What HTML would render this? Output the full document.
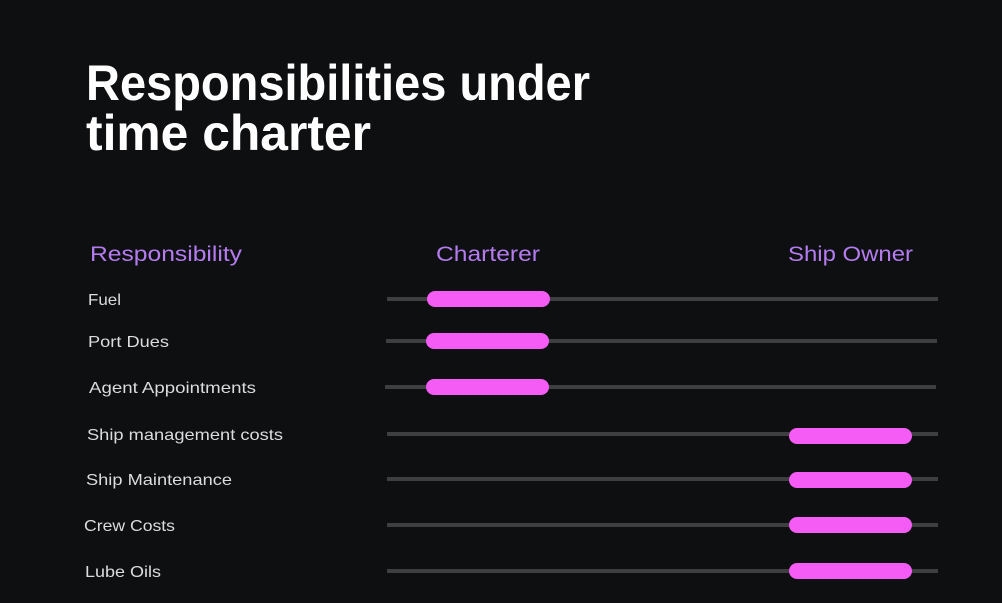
<!DOCTYPE html>
<html><head><meta charset="utf-8"><style>
html,body{margin:0;padding:0;background:#0e0f11;}
svg{display:block}
</style></head><body>
<svg width="1002" height="603" viewBox="0 0 1002 603" xmlns="http://www.w3.org/2000/svg">
<rect width="1002" height="603" fill="#0e0f11"/>
<g font-family="Liberation Sans, sans-serif" font-weight="bold" fill="#ffffff" font-size="50">
<text x="86" y="100" textLength="504" lengthAdjust="spacingAndGlyphs">Responsibilities under</text>
<text x="86" y="150" textLength="285" lengthAdjust="spacingAndGlyphs">time charter</text>
</g>
<g font-family="Liberation Sans, sans-serif" fill="#b47cf0" font-size="21">
<text x="90" y="261" textLength="152" lengthAdjust="spacingAndGlyphs">Responsibility</text>
<text x="436" y="261" textLength="104" lengthAdjust="spacingAndGlyphs">Charterer</text>
<text x="788" y="261" textLength="125" lengthAdjust="spacingAndGlyphs">Ship Owner</text>
</g>
<g font-family="Liberation Sans, sans-serif" fill="#dcdcdc" font-size="16">
<text x="88" y="305" textLength="33" lengthAdjust="spacingAndGlyphs">Fuel</text>
<text x="88" y="347" textLength="81" lengthAdjust="spacingAndGlyphs">Port Dues</text>
<text x="89" y="393" textLength="167" lengthAdjust="spacingAndGlyphs">Agent Appointments</text>
<text x="87" y="440" textLength="196" lengthAdjust="spacingAndGlyphs">Ship management costs</text>
<text x="86" y="485" textLength="146" lengthAdjust="spacingAndGlyphs">Ship Maintenance</text>
<text x="84" y="531" textLength="91" lengthAdjust="spacingAndGlyphs">Crew Costs</text>
<text x="85" y="577" textLength="76" lengthAdjust="spacingAndGlyphs">Lube Oils</text>
</g>
<g fill="#3f3f41">
<rect x="387" y="297" width="551" height="4"/>
<rect x="386" y="339" width="551" height="4"/>
<rect x="385" y="385" width="551" height="4"/>
<rect x="387" y="432" width="551" height="4"/>
<rect x="387" y="477" width="551" height="4"/>
<rect x="387" y="523" width="551" height="4"/>
<rect x="387" y="569" width="551" height="4"/>
</g>
<g fill="#f55cf5">
<rect x="427" y="291" width="123" height="16" rx="8"/>
<rect x="426" y="333" width="123" height="16" rx="8"/>
<rect x="426" y="379" width="123" height="16" rx="8"/>
<rect x="789" y="428" width="123" height="16" rx="8"/>
<rect x="789" y="472" width="123" height="16" rx="8"/>
<rect x="789" y="517" width="123" height="16" rx="8"/>
<rect x="789" y="563" width="123" height="16" rx="8"/>
</g>
</svg>
</body></html>
